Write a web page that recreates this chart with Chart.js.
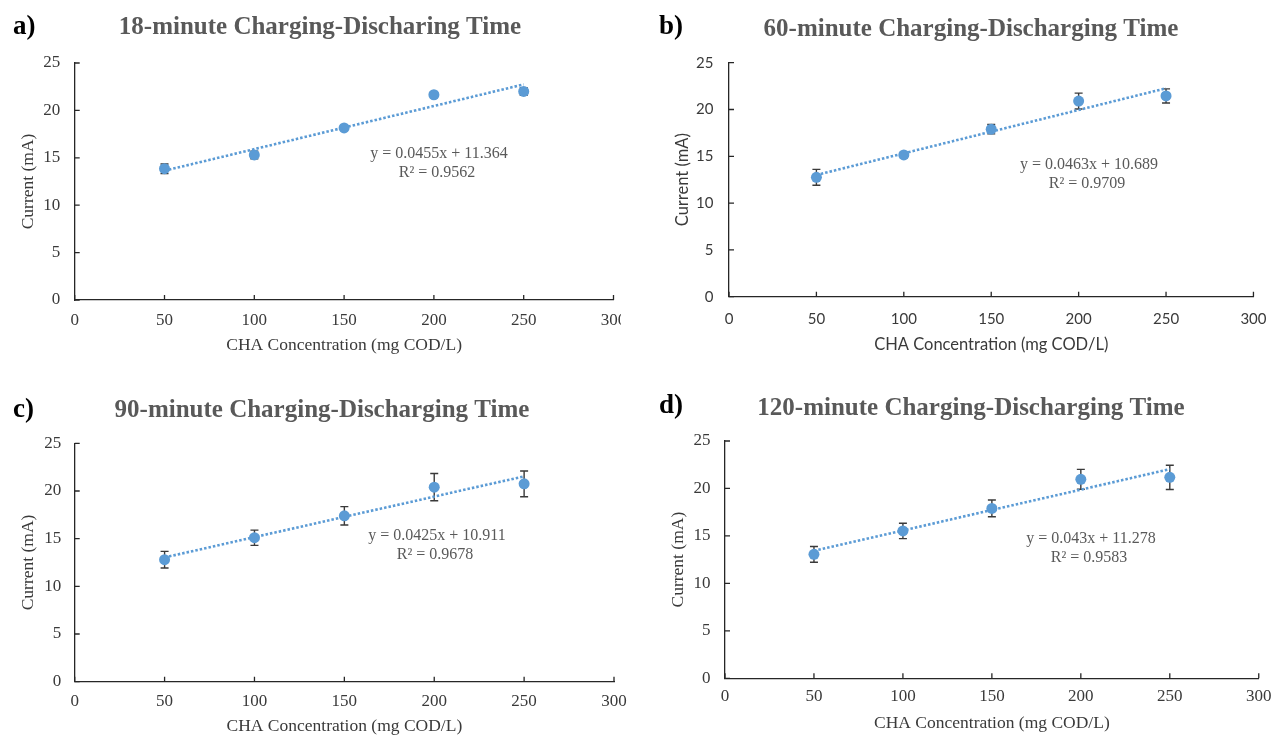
<!DOCTYPE html>
<html>
<head>
<meta charset="utf-8">
<title>Current vs CHA concentration</title>
<script src="https://cdn.jsdelivr.net/npm/chart.js@4.4.1/dist/chart.umd.min.js"></script>
<style>
html,body{margin:0;padding:0;background:#fff;}
#page{position:relative;width:1280px;height:738px;overflow:hidden;}
.panel{position:absolute;overflow:hidden;height:369px;}
</style>
</head>
<body>
<div id="page"></div>
<script>
// CHA concentration (mg COD/L) and axis ticks
const concentration=[50,100,150,200,250];
const xTicks=[0,50,100,150,200,250,300];
const yTicks=[0,5,10,15,20,25];

// mean current (mA) and error for each charging-discharging time
const current18=[13.85,15.3,18.15,21.65,22.0];
const error18=[0.5,0.4,0.2,0.3,0.4];
const current60=[12.75,15.15,17.9,20.9,21.45];
const error60=[0.85,0.3,0.5,0.85,0.75];
const current90=[12.8,15.1,17.4,20.4,20.75];
const error90=[0.87,0.8,0.96,1.43,1.35];
const current120=[13.06,15.52,17.9,20.96,21.17];
const error120=[0.83,0.81,0.88,1.05,1.28];

// linear fits
const slopes=[0.0455,0.0463,0.0425,0.043];
const intercepts=[11.364,10.689,10.911,11.278];
const rSquared=[0.9562,0.9709,0.9678,0.9583];

const titles=['18-minute Charging-Discharing Time','60-minute Charging-Discharging Time',
  '90-minute Charging-Discharging Time','120-minute Charging-Discharging Time'];
const letters=['a)','b)','c)','d)'];
const currents=[current18,current60,current90,current120];
const errors=[error18,error60,error90,error120];

const BLUE='#5B9BD5';
const AXIS='#262626';
const TEXT='#3a3a3a';
const SERIF='"Liberation Serif","Times New Roman",serif';
const SANS='Lato,"Open Sans",sans-serif';

// placement of each panel on the page
const layout=[
  {left:0,  top:0,  w:621,padTop:63,  padRight:26.5,yW:74.7,xH:69,  yTickPad:14.5,yTitlePad:18,  xTickPad:10,  xTitlePad:13.5,
   titleX:320,titleY:28,letterX:13,letterY:27,eqX:439,eqY:154,family:SERIF,size:17,titleSize:17.5},
  {left:640,top:0,  w:640,padTop:62.7,padRight:15.5,yW:89,  xH:72.3,yTickPad:15.5,yTitlePad:33,  xTickPad:13.5,xTitlePad:14,
   titleX:331,titleY:30,letterX:19,letterY:27,eqX:449,eqY:165,family:SANS,size:15,titleSize:16.5},
  {left:0,  top:369,w:640,padTop:74.3,padRight:26,  yW:74.7,xH:56.3,yTickPad:13.5,yTitlePad:18,  xTickPad:10,  xTitlePad:1.5,
   titleX:322,titleY:42,letterX:13,letterY:41,eqX:437,eqY:167,family:SERIF,size:17,titleSize:17.5},
  {left:640,top:369,w:640,padTop:72,  padRight:15.5,yW:85,  xH:59.7,yTickPad:14.5,yTitlePad:28,  xTickPad:8.5, xTitlePad:4.5,
   titleX:331,titleY:40,letterX:19,letterY:37,eqX:451,eqY:170,family:SERIF,size:17,titleSize:17.5}
];

// error bars behind the markers
const errorBars={
  id:'errorBars',
  beforeDatasetsDraw(chart){
    const ds=chart.data.datasets.find(d=>d.errors);
    if(!ds)return;
    const {ctx,scales:{x,y}}=chart;
    ctx.save();
    ctx.strokeStyle=TEXT;
    ctx.lineWidth=1.4;
    ds.data.forEach((p,i)=>{
      const e=ds.errors[i];
      const px=x.getPixelForValue(p.x);
      const y0=y.getPixelForValue(p.y-e), y1=y.getPixelForValue(p.y+e);
      ctx.beginPath();
      ctx.moveTo(px,y0);ctx.lineTo(px,y1);
      ctx.moveTo(px-4,y0);ctx.lineTo(px+4,y0);
      ctx.moveTo(px-4,y1);ctx.lineTo(px+4,y1);
      ctx.stroke();
    });
    ctx.restore();
  }
};

// inward tick marks, heading, panel letter and fit equation
const decor={
  id:'decor',
  afterDraw(chart,args,opts){
    const {ctx,chartArea:a,scales:{x,y}}=chart;
    ctx.save();
    ctx.strokeStyle=AXIS;
    ctx.lineWidth=1.3;
    ctx.beginPath();
    x.ticks.forEach(t=>{const px=x.getPixelForValue(t.value);ctx.moveTo(px,a.bottom);ctx.lineTo(px,a.bottom-5);});
    y.ticks.forEach(t=>{const py=y.getPixelForValue(t.value);ctx.moveTo(a.left,py);ctx.lineTo(a.left+5,py);});
    ctx.stroke();

    ctx.textBaseline='middle';
    ctx.font='bold 25px '+SERIF;
    ctx.fillStyle='#595959';
    ctx.textAlign='center';
    ctx.fillText(opts.title,opts.titleX,opts.titleY);
    ctx.font='bold 27px '+SERIF;
    ctx.fillStyle='#000';
    ctx.textAlign='left';
    ctx.fillText(opts.letter,opts.letterX,opts.letterY);

    ctx.font='16px '+SERIF;
    ctx.fillStyle='#595959';
    ctx.textAlign='center';
    ctx.fillText('y = '+opts.slope+'x + '+opts.intercept,opts.eqX,opts.eqY);
    ctx.fillText('R\u00B2 = '+opts.r2,opts.eqX-2,opts.eqY+19);
    ctx.restore();
  }
};

const page=document.getElementById('page');
layout.forEach((L,k)=>{
  const box=document.createElement('div');
  box.className='panel';
  box.style.left=L.left+'px';
  box.style.top=L.top+'px';
  box.style.width=L.w+'px';
  const cv=document.createElement('canvas');
  cv.width=640;cv.height=369;
  box.appendChild(cv);
  page.appendChild(box);

  const tickFont={family:L.family,size:L.size};
  const titleFont={family:L.family,size:L.titleSize};
  const ends=[concentration[0],concentration[concentration.length-1]];

  new Chart(cv,{
    type:'scatter',
    data:{datasets:[
      {label:'Linear fit',data:ends.map(c=>({x:c,y:slopes[k]*c+intercepts[k]})),
       showLine:true,borderColor:BLUE,borderWidth:2.6,borderDash:[2.5,2],borderCapStyle:'butt',
       pointRadius:0,order:0},
      {label:'Current',data:concentration.map((c,i)=>({x:c,y:currents[k][i]})),errors:errors[k],
       backgroundColor:BLUE,borderColor:BLUE,pointRadius:5.5,pointBorderWidth:0,order:1}
    ]},
    options:{
      responsive:false,animation:false,devicePixelRatio:1,
      layout:{padding:{left:0,top:L.padTop,right:L.padRight,bottom:0}},
      plugins:{
        legend:{display:false},tooltip:{enabled:false},
        decor:{title:titles[k],letter:letters[k],titleX:L.titleX,titleY:L.titleY,letterX:L.letterX,letterY:L.letterY,
          eqX:L.eqX,eqY:L.eqY,slope:slopes[k],intercept:intercepts[k],r2:rSquared[k]}
      },
      scales:{
        x:{type:'linear',min:0,max:300,
          afterBuildTicks:s=>{s.ticks=xTicks.map(v=>({value:v}));},
          afterFit:s=>{s.height=L.xH;},
          grid:{display:false,drawTicks:false},
          border:{display:true,color:AXIS,width:1.3},
          ticks:{font:tickFont,color:TEXT,padding:L.xTickPad,maxRotation:0,autoSkip:false},
          title:{display:true,text:'CHA Concentration (mg COD/L)',font:titleFont,color:TEXT,padding:{top:0,bottom:L.xTitlePad}}},
        y:{type:'linear',min:0,max:25,
          afterBuildTicks:s=>{s.ticks=yTicks.map(v=>({value:v}));},
          afterFit:s=>{s.width=L.yW;},
          grid:{display:false,drawTicks:false},
          border:{display:true,color:AXIS,width:1.3},
          ticks:{font:tickFont,color:TEXT,padding:L.yTickPad},
          title:{display:true,text:'Current (mA)',font:titleFont,color:TEXT,padding:{top:L.yTitlePad,bottom:0}}}
      }
    },
    plugins:[errorBars,decor]
  });
});
</script>
</body>
</html>
